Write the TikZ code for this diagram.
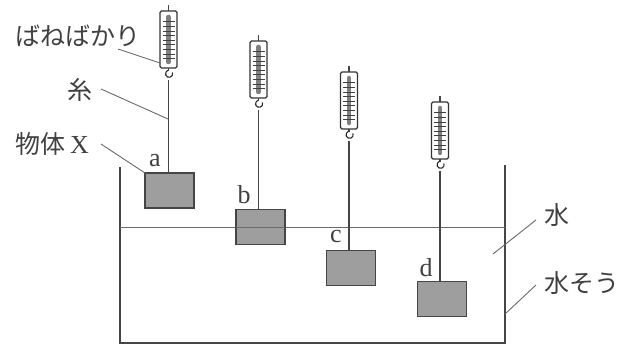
\documentclass[tikz,border=0pt]{standalone}
\usepackage{fontspec}
\newfontfamily\jp{Noto Sans CJK JP}
\setmainfont{Liberation Serif}
\definecolor{ink}{gray}{0.27}
\definecolor{txt}{gray}{0.25}
\definecolor{blockfill}{gray}{0.62}
\tikzset{
  thinline/.style={draw=ink,line width=1.1pt},
  leader/.style={draw=ink!80,line width=0.9pt},
  block/.style={draw=ink,line width=1.1pt,fill=blockfill,minimum width=49pt,minimum height=35pt,inner sep=0pt,outer sep=0pt},
  body/.style={draw=black!80,line width=1.3pt,fill=white,rounded corners=1.5pt,minimum width=17pt,minimum height=57pt,inner sep=0pt,outer sep=0pt},
  lab/.style={text=txt,font=\fontsize{26}{26}\selectfont,inner sep=0pt},
  jlab/.style={text=txt,font=\jp\fontsize{25}{25}\selectfont,inner sep=0pt},
}
% #1 name, #2 x, #3 y top of body
\newcommand{\springscale}[3]{%
  \node[body] (#1) at (#2,#3+28.5) {};
  \coordinate (#1top) at (#2,#3-6);
  \coordinate (#1hook) at (#2,#3+69);
  \coordinate (#1lead) at (#2-8.5,#3+52);
  \draw[thinline] (#1.north) -- (#1top);
  \draw[draw=black!50,line width=4.5pt,line cap=round] (#2,#3+6) -- (#2,#3+51);
  \foreach \k in {0,...,8}{
    \draw[draw=black!75,line width=1pt] (#2-6,#3+11+\k*4.6) -- (#2+6,#3+11+\k*4.6);
  }
  \draw[thinline] (#1.south) -- (#2,#3+60);
  \draw[draw=black!85,line width=1.1pt] (#2+4,#3+61.5) arc[start angle=20,end angle=-250,radius=3.6pt];
}
\begin{document}
\begin{tikzpicture}[x=1pt,y=-1pt]
\useasboundingbox (0,0) rectangle (630,345);
% tank and water
\coordinate (tl) at (120,167);
\coordinate (bl) at (120,343);
\coordinate (br) at (505,343);
\coordinate (tr) at (505,165);
\coordinate (wl) at (120,227);
\coordinate (wr) at (505,227);
\draw[thinline] (tl) -- (bl) -- (br) -- (tr);
\draw[draw=ink!80,line width=0.9pt] (wl) -- (wr);
% scales
\springscale{s1}{168.5}{11}
\springscale{s2}{258.5}{41}
\springscale{s3}{349}{72}
\springscale{s4}{440}{102}
% blocks
\node[block] (a) at (169.5,190.5) {};
\node[block] (b) at (260.5,227) {};
\node[block] (c) at (351,268) {};
\node[block] (d) at (442,299) {};
\draw[draw=ink!80,line width=0.9pt] (b.west) -- (b.east);
% strings
\draw[thinline] (s1hook) -- (s1hook |- a.north);
\draw[thinline] (s2hook) -- (s2hook |- b.north);
\draw[thinline] (s3hook) -- (s3hook |- c.north);
\draw[thinline] (s4hook) -- (s4hook |- d.north);
% letters
\node[lab] (la) at (155,161) {a};
\node[lab] (lb) at (244,195) {b};
\node[lab] (lc) at (336,237) {c};
\node[lab] (ld) at (426,268) {d};
% texts
\node[jlab] (t1) at (78,36) {ばねばかり};
\node[jlab] (t2) at (80,90) {糸};
\node[jlab] (t3) at (52,144) {物体\hspace{5pt}{\rmfamily\fontsize{26}{26}\selectfont X}};
\node[jlab] (t4) at (557,215) {水};
\node[jlab] (t5) at (582,283) {水そう};
% leaders
\coordinate (e1) at (118,49);
\coordinate (e2) at (101,89);
\coordinate (e3) at (101,144);
\coordinate (e4) at (536,220);
\coordinate (e5) at (536,285);
\coordinate (f2) at (168,119);
\coordinate (f4) at (493,254);
\coordinate (f5) at (505,314);
\draw[leader] (e1) -- (s1lead);
\draw[leader] (e2) -- (f2);
\draw[leader] (e3) -- (a.north west);
\draw[leader] (e4) -- (f4);
\draw[leader] (e5) -- (f5);
\end{tikzpicture}
\end{document}
